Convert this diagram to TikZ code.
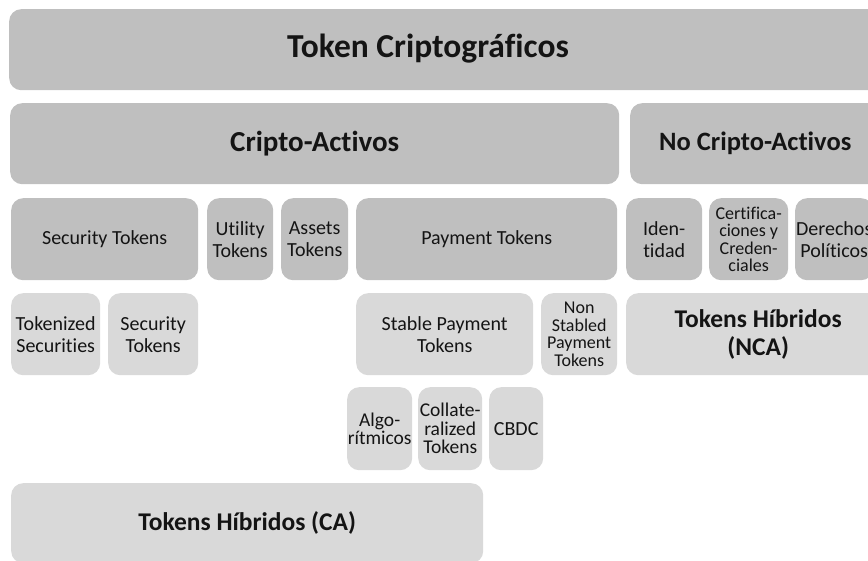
\documentclass[tikz,border=0pt]{standalone}
\usepackage{fontspec}
\setmainfont{Carlito}[Ligatures=NoCommon]
\usepackage{tikz}

\definecolor{boxdark}{RGB}{191,191,191}
\definecolor{boxlight}{RGB}{217,217,217}
\definecolor{inkgray}{RGB}{20,20,20}

\tikzset{
  darkbox/.style={fill=boxdark, rounded corners=12pt, inner sep=0pt, align=center,
    anchor=north west, text=inkgray, font=\fontsize{20}{22}\selectfont},
  lightbox/.style={darkbox, fill=boxlight},
  tightlines/.style={font=\fontsize{18}{17.5}\selectfont},
  threelines/.style={font=\fontsize{19.5}{18.5}\selectfont},
  bigbold/.style={font=\bfseries\fontsize{29}{33}\selectfont},
  midbold/.style={font=\bfseries\fontsize{25.5}{28}\selectfont}
}

\begin{document}
\begin{tikzpicture}[x=1pt, y=-1pt]
\useasboundingbox (0,0) rectangle (868,561);
\clip (0,0) rectangle (868,561);

% top level
\node[darkbox, minimum width=900pt, minimum height=81pt] (token) at (9,9) {};
\node[text=inkgray, font=\bfseries\fontsize{33.5}{36}\selectfont] (tokentext) at (428,49) {Token Criptográficos};

% second level
\node[darkbox, bigbold, minimum width=609pt, minimum height=81pt] (cripto) at (10,103) {Cripto-Activos};
\node[darkbox, font=\bfseries\fontsize{26.5}{30}\selectfont, minimum width=250pt, minimum height=81pt] (nocripto) at (630,103) {No Cripto-Activos};

% third level
\node[darkbox, minimum width=187pt, minimum height=82pt] (security) at (11,198) {Security Tokens};
\node[darkbox, minimum width=66pt, minimum height=82pt] (utility) at (207,198) {Utility\\Tokens};
\node[darkbox, minimum width=67pt, minimum height=82pt] (assets) at (281,198) {Assets\\Tokens};
\node[darkbox, minimum width=261pt, minimum height=82pt] (payment) at (356,198) {Payment Tokens};
\node[darkbox, minimum width=76pt, minimum height=82pt] (identidad) at (626,198) {Iden-\\tidad};
\node[darkbox, tightlines, minimum width=79pt, minimum height=82pt] (certif) at (709,198) {Certifica-\\ciones y\\Creden-\\ciales};
\node[darkbox, minimum width=78pt, minimum height=82pt] (derechos) at (795,198) {Derechos\\Políticos};

% fourth level
\node[lightbox, minimum width=89pt, minimum height=82pt] (tokenized) at (11,293) {Tokenized\\Securities};
\node[lightbox, minimum width=90pt, minimum height=82pt] (secsub) at (108,293) {Security\\Tokens};
\node[lightbox, minimum width=177pt, minimum height=82pt] (stable) at (356,293) {Stable Payment\\Tokens};
\node[lightbox, tightlines, minimum width=76pt, minimum height=82pt] (nonstable) at (541,293) {Non\\Stabled\\Payment\\Tokens};
\node[lightbox, midbold, minimum width=264pt, minimum height=82pt] (hibnca) at (626,293) {Tokens Híbridos\\(NCA)};

% fifth level
\node[lightbox, threelines, minimum width=65pt, minimum height=83pt] (algo) at (347,387) {Algo-\\rítmicos};
\node[lightbox, threelines, minimum width=64pt, minimum height=83pt] (collat) at (418,387) {Collate-\\ralized\\Tokens};
\node[lightbox, minimum width=54pt, minimum height=83pt] (cbdc) at (489,387) {CBDC};

% bottom
\node[lightbox, midbold, minimum width=472pt, minimum height=80pt] (hibca) at (11,483) {Tokens Híbridos (CA)};
\end{tikzpicture}
\end{document}
